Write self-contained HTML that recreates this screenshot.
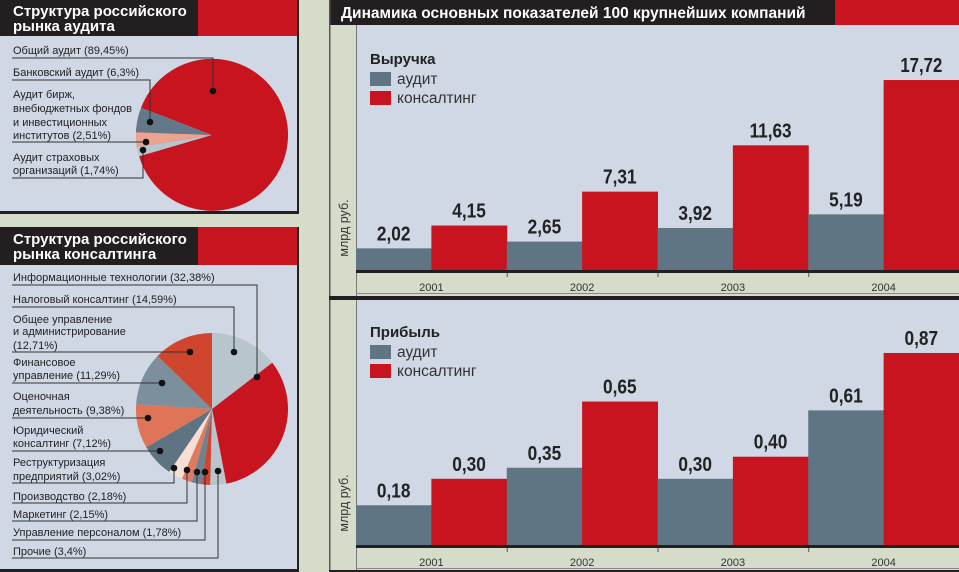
<!DOCTYPE html><html><head><meta charset="utf-8"><style>body{margin:0;background:#d5dcca}svg{display:block}text{font-family:"Liberation Sans",sans-serif}</style></head><body>
<svg width="959" height="572" viewBox="0 0 959 572" xmlns="http://www.w3.org/2000/svg">
<rect width="959" height="572" fill="#d5dcca"/>
<rect x="0" y="0" width="298" height="214" fill="#d0d7e5"/>
<rect x="0" y="0" width="198" height="36" fill="#231f20"/>
<rect x="198" y="0" width="100" height="36" fill="#c8141e"/>
<rect x="0" y="211" width="299" height="3" fill="#231f20"/>
<rect x="297" y="0" width="2" height="214" fill="#231f20"/>
<text x="13" y="16" fill="#fff" font-size="15" font-weight="bold">Структура российского</text>
<text x="13" y="31" fill="#fff" font-size="15" font-weight="bold">рынка аудита</text>
<g transform="translate(212,135)">
<path d="M0,0 L-71.0,-27.2 A76,76 0 1 1 -75.5,-8.6 Z" fill="#c8141e"/>
<path d="M0,0 L-71.0,-27.2 A76,76 0 0 0 -76,-2.7 Z" fill="#63788a"/>
<path d="M0,0 L-76,-2.7 A76,76 0 0 0 -75.1,11.9 Z" fill="#eba48f"/>
<path d="M0,0 L-75.1,11.9 A76,76 0 0 0 -72.9,21.4 Z" fill="#b8c6cc"/>
</g>
<g font-size="11" fill="#222">
<text x="13" y="54">Общий аудит (89,45%)</text>
<text x="13" y="76">Банковский аудит (6,3%)</text>
<text x="13" y="98">Аудит бирж,</text><text x="13" y="112">внебюджетных фондов</text><text x="13" y="126">и инвестиционных</text><text x="13" y="139">институтов (2,51%)</text>
<text x="13" y="161">Аудит страховых</text><text x="13" y="174">организаций (1,74%)</text>
</g>
<g stroke="#333" stroke-width="1" fill="none">
<polyline points="12,58 213,58 213,91"/>
<polyline points="12,80 150,80 150,122"/>
<polyline points="12,142 146,142"/>
<polyline points="12,178 143,178 143,150"/>
</g>
<g fill="#111"><circle cx="213" cy="91" r="3.3"/><circle cx="150" cy="122" r="3.3"/><circle cx="146" cy="142" r="3.3"/><circle cx="143" cy="150" r="3.3"/></g>

<rect x="0" y="227" width="298" height="344" fill="#d0d7e5"/>
<rect x="0" y="227" width="198" height="38" fill="#231f20"/>
<rect x="198" y="227" width="100" height="38" fill="#c8141e"/>
<rect x="0" y="569" width="299" height="3" fill="#231f20"/>
<rect x="297" y="227" width="2" height="345" fill="#231f20"/>
<text x="13" y="244" fill="#fff" font-size="15" font-weight="bold">Структура российского</text>
<text x="13" y="259" fill="#fff" font-size="15" font-weight="bold">рынка консалтинга</text>
<g id="pie2"></g>
<g font-size="11" fill="#222">
<text x="13" y="281">Информационные технологии (32,38%)</text>
<text x="13" y="303">Налоговый консалтинг (14,59%)</text>
<text x="13" y="323">Общее управление</text><text x="13" y="335">и администрирование</text><text x="13" y="349">(12,71%)</text>
<text x="13" y="366">Финансовое</text><text x="13" y="379">управление (11,29%)</text>
<text x="13" y="400">Оценочная</text><text x="13" y="414">деятельность (9,38%)</text>
<text x="13" y="434">Юридический</text><text x="13" y="447">консалтинг (7,12%)</text>
<text x="13" y="466">Реструктуризация</text><text x="13" y="480">предприятий (3,02%)</text>
<text x="13" y="500">Производство (2,18%)</text>
<text x="13" y="518">Маркетинг (2,15%)</text>
<text x="13" y="536">Управление персоналом (1,78%)</text>
<text x="13" y="555">Прочие (3,4%)</text>
</g>

<rect x="329" y="0" width="630" height="572" fill="#d5dcca"/>
<rect x="329" y="0" width="506" height="25" fill="#231f20"/>
<rect x="835" y="0" width="124" height="25" fill="#c8141e"/>
<text x="341" y="18" fill="#fff" font-size="15.5" font-weight="bold">Динамика основных показателей 100 крупнейших компаний</text>
<rect x="329" y="0" width="1.5" height="572" fill="#555"/>
<rect x="356" y="25" width="603" height="245" fill="#d0d7e5"/>
<rect x="356" y="300" width="603" height="245" fill="#d0d7e5"/>
<rect x="356" y="25" width="1" height="272" fill="#777"/>
<rect x="356" y="300" width="1" height="272" fill="#777"/>
<rect x="329" y="296" width="630" height="4" fill="#231f20"/>
<rect x="329" y="570" width="630" height="2" fill="#231f20"/>
<rect x="356" y="293" width="603" height="1" fill="#888"/>
<rect x="356" y="568" width="603" height="1" fill="#888"/>
<g id="bars"></g>
</svg>
<script>
(function(){
var NS="http://www.w3.org/2000/svg";
function el(t,a,p,txt){var e=document.createElementNS(NS,t);for(var k in a)e.setAttribute(k,a[k]);if(txt!=null)e.textContent=txt;p.appendChild(e);return e;}
var g=document.getElementById('pie2');
var cx=212,cy=409,r=76;
var sl=[[14.59,'#b8c5cd'],[32.38,'#c8141e'],[3.4,'#b8c5cd'],[1.78,'#d0452e'],[2.15,'#6e8391'],[2.18,'#e07a5f'],[3.02,'#f6dfd2'],[7.12,'#5e7482'],[9.38,'#e07458'],[11.29,'#7b8f9c'],[12.71,'#d0452e']];
var a=0;
sl.forEach(function(s){var a0=a,a1=a+s[0]*3.6;a=a1;
var p=function(d){var rr=d*Math.PI/180;return [cx+r*Math.sin(rr),cy-r*Math.cos(rr)];};
var P0=p(a0),P1=p(a1);
el('path',{d:'M'+cx+','+cy+' L'+P0[0]+','+P0[1]+' A'+r+','+r+' 0 '+(a1-a0>180?1:0)+' 1 '+P1[0]+','+P1[1]+' Z',fill:s[1]},g);});
var lines=[[285,257,377],[307,234,352],[352,190,352],[383,162,383],[418,148,418],[451,160,451],[483,174,468],[503,187,470],[521,197,472],[540,205,472],[558,218,471]];
lines.forEach(function(l){el('polyline',{points:'12,'+l[0]+' '+l[1]+','+l[0]+' '+l[1]+','+l[2],stroke:'#333',fill:'none','stroke-width':1},g);el('circle',{cx:l[1],cy:l[2],r:3.3,fill:'#111'},g);});
var b=document.getElementById('bars');
function chart(base,scale,title,au,co,auL,coL){
 var x0=356,gw=150.75;
 for(var i=0;i<4;i++){var gx=x0+i*gw,bw=gw/2;
  var ha=au[i]*scale,hc=co[i]*scale;
  el('rect',{x:gx,y:base-ha,width:bw+0.5,height:ha,fill:'#5f7584'},b);
  el('rect',{x:gx+bw,y:base-hc,width:bw+0.5,height:hc,fill:'#c8141e'},b);
  el('text',{x:gx+bw/2,y:base-ha-8,'text-anchor':'middle','font-size':20,'font-weight':'bold',fill:'#222',"textLength":auL[i].length*8.4,lengthAdjust:'spacingAndGlyphs'},b,auL[i]);
  el('text',{x:gx+bw*1.5,y:base-hc-8,'text-anchor':'middle','font-size':20,'font-weight':'bold',fill:'#222',"textLength":coL[i].length*8.4,lengthAdjust:'spacingAndGlyphs'},b,coL[i]);
  el('text',{x:gx+bw,y:base+21,'text-anchor':'middle','font-size':11,fill:'#333'},b,''+(2001+i));
  if(i>0)el('rect',{x:gx,y:base,width:1,height:7,fill:'#555'},b);
 }
 el('rect',{x:356,y:base,width:603,height:3,fill:'#231f20'},b);
 var ty=base-270+58+(base>300?-2:0);
 el('text',{x:370,y:ty+6,'font-size':15,'font-weight':'bold',fill:'#222'},b,title);
 el('rect',{x:370,y:ty+14,width:21,height:14,fill:'#5f7584'},b);
 el('text',{x:397,y:ty+26,'font-size':15.5,fill:'#333'},b,'аудит');
 el('rect',{x:370,y:ty+33,width:21,height:14,fill:'#c8141e'},b);
 el('text',{x:397,y:ty+45,'font-size':15.5,fill:'#333'},b,'консалтинг');
 el('text',{x:0,y:0,'font-size':12.5,fill:'#333',transform:'translate(348,'+(base-42)+') rotate(-90)','text-anchor':'middle'},b,'млрд руб.');
}
chart(270,10.72,'Выручка',[2.02,2.65,3.92,5.19],[4.15,7.31,11.63,17.72],['2,02','2,65','3,92','5,19'],['4,15','7,31','11,63','17,72']);
chart(545,220.7,'Прибыль',[0.18,0.35,0.30,0.61],[0.30,0.65,0.40,0.87],['0,18','0,35','0,30','0,61'],['0,30','0,65','0,40','0,87']);
})();
</script>
</body></html>
